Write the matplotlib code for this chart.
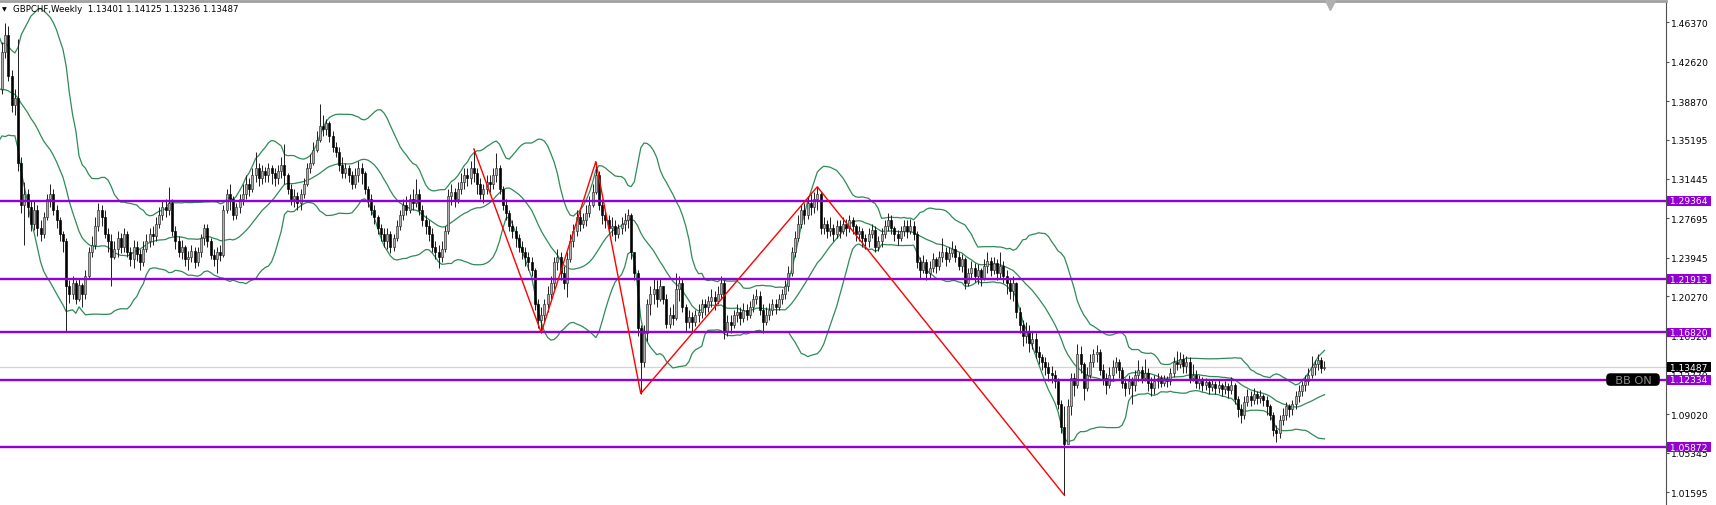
#-------------------------------------------------------------------------------------
# GBPCHF weekly candles with Bollinger bands, zigzag and horizontal levels (MT4 look)
#-------------------------------------------------------------------------------------

import numpy as np
import pandas as pd
import matplotlib
matplotlib.use('Agg')
import matplotlib.pyplot as plt
import matplotlib.transforms as mtransforms

plt.rcParams['font.family'] = ['DejaVu Sans']

# data -------------------------------------------------------------------------------
title_text = 'GBPCHF,Weekly  1.13401 1.14125 1.13236 1.13487'
last_close = 1.13487

# weekly closes before the left edge (only feed the bands)
pre_closes = [1.465, 1.448, 1.435, 1.425, 1.418, 1.402, 1.392, 1.385, 1.378, 1.382,
              1.370, 1.375, 1.388, 1.392, 1.380, 1.378, 1.392, 1.400, 1.410, 1.400]

# visible weekly bars, price x 1000 (open = previous close)
closes_k = [
    1435, 1452, 1413, 1385, 1392, 1330, 1290, 1300, 1288, 1272,   # 0
    1285, 1268, 1262, 1278, 1295, 1300, 1285, 1275, 1262, 1255,   # 10
    1212, 1205, 1215, 1200, 1213, 1205, 1222, 1245, 1252, 1270,   # 20
    1285, 1278, 1262, 1255, 1240, 1248, 1258, 1250, 1262, 1245,   # 30
    1238, 1250, 1243, 1235, 1248, 1255, 1262, 1260, 1272, 1280,   # 40
    1288, 1285, 1292, 1265, 1255, 1245, 1250, 1238, 1240, 1246,   # 50
    1235, 1245, 1258, 1268, 1255, 1242, 1238, 1245, 1242, 1285,   # 60
    1300, 1295, 1280, 1288, 1295, 1300, 1310, 1305, 1318, 1325,   # 70
    1315, 1322, 1318, 1325, 1320, 1315, 1322, 1328, 1318, 1305,   # 80
    1295, 1298, 1292, 1300, 1310, 1325, 1330, 1342, 1352, 1365,   # 90
    1362, 1368, 1355, 1345, 1340, 1328, 1320, 1325, 1318, 1310,   # 100
    1318, 1325, 1320, 1305, 1295, 1285, 1278, 1268, 1262, 1255,   # 110
    1262, 1250, 1258, 1270, 1280, 1290, 1285, 1295, 1292, 1300,   # 120
    1285, 1275, 1270, 1262, 1250, 1245, 1240, 1248, 1265, 1298,   # 130
    1302, 1295, 1305, 1312, 1318, 1315, 1325, 1320, 1310, 1300,   # 140
    1305, 1312, 1310, 1318, 1325, 1305, 1290, 1282, 1270, 1265,   # 150
    1258, 1250, 1245, 1240, 1235, 1228, 1195, 1180, 1185, 1195,   # 160
    1205, 1215, 1235, 1240, 1225, 1215, 1238, 1255, 1265, 1278,   # 170
    1272, 1275, 1282, 1290, 1302, 1318, 1290, 1280, 1275, 1268,   # 180
    1270, 1262, 1268, 1272, 1275, 1280, 1245, 1225, 1172, 1140,   # 190
    1168, 1195, 1205, 1210, 1200, 1212, 1200, 1176, 1185, 1182,   # 200
    1210, 1215, 1192, 1178, 1183, 1178, 1185, 1188, 1195, 1192,   # 210
    1198, 1202, 1198, 1205, 1215, 1170, 1178, 1175, 1185, 1188,   # 220
    1182, 1190, 1185, 1192, 1200, 1203, 1190, 1178, 1185, 1190,   # 230
    1195, 1192, 1200, 1205, 1212, 1225, 1245, 1258, 1272, 1285,   # 240
    1280, 1292, 1288, 1295, 1300, 1268, 1272, 1265, 1268, 1262,   # 250
    1270, 1265, 1272, 1268, 1275, 1270, 1262, 1265, 1258, 1255,   # 260
    1262, 1266, 1250, 1255, 1262, 1270, 1275, 1268, 1262, 1258,   # 270
    1265, 1270, 1265, 1270, 1262, 1235, 1228, 1235, 1225, 1230,   # 280
    1238, 1232, 1240, 1245, 1238, 1244, 1248, 1240, 1232, 1238,   # 290
    1215, 1225, 1230, 1222, 1228, 1220, 1232, 1236, 1228, 1234,   # 300
    1225, 1232, 1222, 1215, 1208, 1215, 1188, 1175, 1165, 1170,   # 310
    1158, 1162, 1150, 1145, 1140, 1135, 1130, 1128, 1122, 1100,   # 320
    1078, 1062, 1098, 1125, 1118, 1148, 1138, 1115, 1128, 1140,   # 330
    1148, 1150, 1132, 1125, 1118, 1128, 1135, 1140, 1132, 1120,   # 340
    1115, 1122, 1118, 1128, 1132, 1125, 1130, 1120, 1115, 1122,   # 350
    1125, 1120, 1124, 1122, 1130, 1140, 1138, 1143, 1136, 1140,   # 360
    1125, 1128, 1120, 1123, 1118, 1121, 1116, 1119, 1115, 1118,   # 370
    1114, 1117, 1113, 1118, 1105, 1095, 1090, 1102, 1108, 1104,   # 380
    1110, 1106, 1108, 1104, 1098, 1090, 1075, 1072, 1085, 1090,   # 390
    1098, 1095, 1100, 1108, 1112, 1118, 1122, 1128, 1135, 1138,   # 400
    1142, 1134.01, 1134.87,                                       # 410
]
highs_k = [
    1445, 1463, 1460, 1418, 1400, 1448, 1335, 1312, 1305, 1294,
    1293, 1290, 1275, 1283, 1300, 1310, 1305, 1290, 1278, 1265,
    1258, 1218, 1222, 1218, 1220, 1215, 1228, 1250, 1260, 1278,
    1292, 1290, 1285, 1268, 1262, 1255, 1265, 1263, 1268, 1265,
    1250, 1256, 1255, 1248, 1255, 1262, 1268, 1270, 1278, 1288,
    1293, 1295, 1307, 1295, 1270, 1260, 1256, 1252, 1246, 1252,
    1250, 1250, 1262, 1272, 1272, 1258, 1248, 1250, 1252, 1290,
    1305, 1310, 1298, 1292, 1300, 1310, 1318, 1315, 1325, 1340,
    1330, 1328, 1326, 1330, 1328, 1325, 1328, 1335, 1348, 1320,
    1310, 1305, 1302, 1305, 1315, 1330, 1338, 1350, 1360, 1386,
    1375, 1372, 1370, 1360, 1350, 1345, 1335, 1330, 1328, 1322,
    1325, 1332, 1330, 1322, 1308, 1300, 1290, 1280, 1272, 1268,
    1268, 1265, 1262, 1275, 1285, 1295, 1298, 1300, 1305, 1314,
    1305, 1290, 1280, 1275, 1268, 1255, 1252, 1255, 1270, 1305,
    1310, 1306, 1312, 1320, 1325, 1325, 1332, 1343, 1325, 1315,
    1310, 1318, 1318, 1325, 1339, 1328, 1308, 1295, 1285, 1275,
    1270, 1262, 1255, 1250, 1245, 1240, 1230, 1200, 1192, 1200,
    1212, 1222, 1240, 1248, 1245, 1232, 1245, 1262, 1272, 1285,
    1285, 1282, 1290, 1298, 1310, 1331, 1322, 1295, 1285, 1280,
    1278, 1275, 1272, 1278, 1282, 1286, 1282, 1245, 1228, 1175,
    1175, 1200, 1212, 1220, 1218, 1220, 1212, 1205, 1192, 1195,
    1225, 1222, 1220, 1195, 1190, 1188, 1190, 1195, 1200, 1200,
    1203, 1210, 1208, 1212, 1222, 1218, 1185, 1185, 1190, 1195,
    1192, 1196, 1195, 1198, 1205, 1210, 1208, 1195, 1192, 1196,
    1200, 1200, 1205, 1210, 1218, 1232, 1250, 1265, 1280, 1290,
    1292, 1298, 1300, 1302, 1307, 1302, 1278, 1275, 1278, 1272,
    1275, 1275, 1278, 1276, 1280, 1278, 1272, 1270, 1268, 1262,
    1268, 1272, 1270, 1260, 1268, 1275, 1282, 1280, 1270, 1266,
    1270, 1275, 1275, 1276, 1274, 1265, 1240, 1242, 1238, 1236,
    1244, 1240, 1246, 1258, 1250, 1250, 1255, 1252, 1245, 1243,
    1240, 1230, 1236, 1234, 1233, 1230, 1238, 1245, 1240, 1240,
    1238, 1245, 1236, 1228, 1220, 1222, 1216, 1192, 1180, 1178,
    1175, 1170, 1168, 1155, 1148, 1145, 1140, 1136, 1132, 1125,
    1104, 1098, 1105, 1130, 1130, 1157, 1155, 1140, 1135, 1148,
    1152, 1156, 1152, 1138, 1130, 1135, 1142, 1145, 1143, 1135,
    1125, 1128, 1126, 1132, 1142, 1136, 1143, 1134, 1126, 1128,
    1130, 1128, 1128, 1127, 1134, 1145, 1151, 1150, 1148, 1146,
    1145, 1138, 1132, 1128, 1126, 1125, 1124, 1124, 1122, 1123,
    1120, 1122, 1120, 1126, 1120, 1108, 1100, 1108, 1114, 1112,
    1115, 1112, 1113, 1110, 1108, 1100, 1092, 1080, 1090, 1096,
    1102, 1100, 1104, 1112, 1118, 1122, 1128, 1134, 1146, 1142,
    1148, 1145, 1141.25,
]
lows_k = [
    1395, 1430, 1408, 1378, 1375, 1322, 1282, 1252, 1278, 1265,
    1266, 1260, 1255, 1258, 1275, 1288, 1280, 1268, 1255, 1245,
    1170, 1196, 1200, 1195, 1198, 1192, 1200, 1220, 1240, 1248,
    1265, 1270, 1258, 1245, 1212, 1238, 1240, 1244, 1245, 1240,
    1232, 1230, 1236, 1228, 1232, 1245, 1250, 1252, 1255, 1268,
    1275, 1278, 1280, 1260, 1248, 1240, 1238, 1232, 1228, 1235,
    1230, 1232, 1240, 1252, 1250, 1238, 1232, 1225, 1236, 1240,
    1282, 1285, 1275, 1276, 1282, 1290, 1295, 1298, 1302, 1312,
    1308, 1310, 1312, 1312, 1310, 1308, 1310, 1315, 1310, 1300,
    1290, 1288, 1285, 1285, 1296, 1308, 1320, 1328, 1340, 1350,
    1355, 1356, 1350, 1340, 1335, 1322, 1315, 1315, 1312, 1305,
    1306, 1312, 1310, 1300, 1288, 1280, 1272, 1262, 1255, 1250,
    1248, 1244, 1246, 1255, 1266, 1275, 1280, 1282, 1285, 1288,
    1280, 1270, 1262, 1255, 1245, 1238, 1230, 1235, 1245, 1262,
    1290, 1288, 1292, 1300, 1305, 1308, 1310, 1312, 1300, 1295,
    1292, 1300, 1302, 1305, 1312, 1300, 1285, 1275, 1265, 1258,
    1250, 1245, 1238, 1232, 1228, 1222, 1190, 1172, 1168, 1178,
    1188, 1200, 1210, 1228, 1218, 1210, 1202, 1235, 1250, 1260,
    1265, 1268, 1270, 1278, 1288, 1300, 1285, 1272, 1268, 1262,
    1260, 1255, 1258, 1262, 1265, 1268, 1238, 1218, 1165, 1110,
    1135, 1160, 1185, 1195, 1192, 1198, 1195, 1172, 1172, 1175,
    1180, 1198, 1188, 1170, 1172, 1170, 1174, 1178, 1182, 1185,
    1188, 1192, 1190, 1195, 1200, 1162, 1165, 1168, 1172, 1178,
    1175, 1178, 1180, 1182, 1188, 1195, 1185, 1168, 1175, 1180,
    1185, 1186, 1190, 1195, 1200, 1208, 1222, 1240, 1255, 1268,
    1272, 1276, 1280, 1282, 1285, 1262, 1262, 1258, 1260, 1255,
    1258, 1258, 1262, 1260, 1264, 1262, 1255, 1255, 1250, 1248,
    1250, 1258, 1245, 1246, 1250, 1258, 1265, 1262, 1255, 1252,
    1255, 1260, 1258, 1262, 1256, 1230, 1220, 1225, 1218, 1220,
    1226, 1225, 1228, 1235, 1232, 1235, 1240, 1235, 1228, 1226,
    1210, 1212, 1220, 1216, 1214, 1212, 1218, 1225, 1222, 1224,
    1218, 1220, 1215, 1205, 1200, 1198, 1182, 1168, 1155, 1158,
    1150, 1152, 1144, 1138, 1132, 1128, 1122, 1120, 1115, 1095,
    1072, 1013, 1062, 1090, 1108, 1115, 1130, 1104, 1112, 1125,
    1135, 1140, 1128, 1118, 1110, 1115, 1122, 1130, 1125, 1115,
    1108, 1110, 1100, 1112, 1122, 1120, 1122, 1112, 1108, 1110,
    1115, 1116, 1117, 1116, 1118, 1126, 1132, 1134, 1130, 1130,
    1120, 1122, 1115, 1114, 1112, 1113, 1110, 1112, 1110, 1111,
    1108, 1110, 1106, 1110, 1100, 1088, 1082, 1086, 1098, 1098,
    1100, 1100, 1101, 1098, 1090, 1085, 1070, 1064, 1068, 1080,
    1085, 1088, 1090, 1095, 1102, 1108, 1112, 1118, 1125, 1128,
    1132, 1130, 1132.36,
]

levels = [1.29364, 1.21913, 1.16820, 1.12334, 1.05872]
zigzag_bars = [147, 168, 185, 199, 254, 331]
zigzag_side = ['high', 'low', 'high', 'low', 'high', 'low']
price_ticks = [1.46370, 1.42620, 1.38870, 1.35195, 1.31445, 1.27695, 1.23945,
               1.20270, 1.16520, 1.12770, 1.09020, 1.05345, 1.01595]
bb_period = 20
bb_dev = 2.0

# prepare ----------------------------------------------------------------------------
closes = np.array(closes_k, dtype=float) / 1000
highs = np.array(highs_k, dtype=float) / 1000
lows = np.array(lows_k, dtype=float) / 1000
assert len(closes) == len(highs) == len(lows)
n = len(closes)
opens = np.concatenate([[pre_closes[-1]], closes[:-1]])
highs = np.maximum(highs, np.maximum(opens, closes))
lows = np.minimum(lows, np.minimum(opens, closes))
x = np.arange(n)

all_close = pd.Series(list(pre_closes) + list(closes))
mid = all_close.rolling(bb_period).mean()
sd = all_close.rolling(bb_period).std(ddof=0)
bb_x = np.arange(-len(pre_closes), n)

# plot -------------------------------------------------------------------------------
W, H = 1716, 506
fig = plt.figure(figsize=(W / 100, H / 100), dpi=100)
ax = fig.add_axes([0, 0, 1666 / W, 504.5 / H])
ax.set_xlim(-0.623, 518.4)
ax.set_ylim(1.00383, 1.48447)

# levels and current price
ax.axhline(last_close, color='#d4d4d4', lw=0.9, zorder=1)
for lv in levels:
    ax.axhline(lv, color='#9400d3', lw=1.7, zorder=3)

# bollinger bands
green = '#2e8b57'
ax.plot(bb_x, mid, color=green, lw=0.9, zorder=2)
ax.plot(bb_x, mid + bb_dev * sd, color=green, lw=0.9, zorder=2)
ax.plot(bb_x, mid - bb_dev * sd, color=green, lw=0.9, zorder=2)

# candles
up = closes >= opens
ax.vlines(x, lows, highs, color='#1e1e1e', lw=0.7, zorder=2.2)
ax.bar(x[up], (closes - opens)[up], bottom=opens[up], width=0.62,
       color='#b0b0b0', edgecolor='#2a2a2a', linewidth=0.45, zorder=2.4)
ax.bar(x[~up], (opens - closes)[~up], bottom=closes[~up], width=0.62,
       color='black', edgecolor='black', linewidth=0.45, zorder=2.4)

# zigzag
zz_prices = [highs[b] if s == 'high' else lows[b] for b, s in zip(zigzag_bars, zigzag_side)]
ax.plot(zigzag_bars, zz_prices, color='red', lw=1.0, zorder=4)

# axes style
for side in ['left', 'bottom']:
    ax.spines[side].set_visible(False)
ax.spines['top'].set_color('#a0a0a0')
ax.spines['top'].set_linewidth(2.0)
ax.spines['right'].set_color('#505050')
ax.spines['right'].set_linewidth(0.8)
ax.set_xticks([])
ax.yaxis.tick_right()
ax.set_yticks(price_ticks)
ax.set_yticklabels([f'{t:.5f}' for t in price_ticks])
ax.tick_params(axis='y', direction='out', length=2.2, width=0.8, color='#505050',
               labelsize=6.6, pad=1.2, labelcolor='black')

# price labels on the axis
trans = mtransforms.blended_transform_factory(ax.transAxes, ax.transData)
for lv in levels:
    ax.text(1.0006, lv, f' {lv:.5f} ', transform=trans, ha='left', va='center',
            fontsize=6.6, color='white', clip_on=False, zorder=6,
            bbox=dict(boxstyle='square,pad=0.05', fc='#9400d3', ec='none'))
ax.text(1.0006, last_close, f' {last_close:.5f} ', transform=trans, ha='left', va='center',
        fontsize=6.6, color='white', clip_on=False, zorder=7,
        bbox=dict(boxstyle='square,pad=0.05', fc='black', ec='none'))

# indicator tag
ax.text(1633 / 1666, levels[3], '  BB ON  ', transform=trans, ha='center', va='center',
        fontsize=8.2, color='#8c8c8c', zorder=7,
        bbox=dict(boxstyle='round,pad=0.05,rounding_size=0.3', fc='black', ec='black'))

# title and shift marker
ax.text(2 / 1666, 1 - 8 / 504.5, '\u25bc', transform=ax.transAxes, ha='left', va='center',
        fontsize=4.5, color='black')
ax.text(13 / 1666, 1 - 8 / 504.5, title_text, transform=ax.transAxes, ha='left', va='center',
        fontsize=6.2, color='black')
tmark = mtransforms.blended_transform_factory(ax.transData, ax.transAxes)
ax.plot([n + 0.7], [1 - 4 / 504.5], transform=tmark, marker='v', ms=6.5,
        color='#b0b0b0', clip_on=False, zorder=8)

fig.savefig('out.png', dpi=100)
plt.close(fig)
